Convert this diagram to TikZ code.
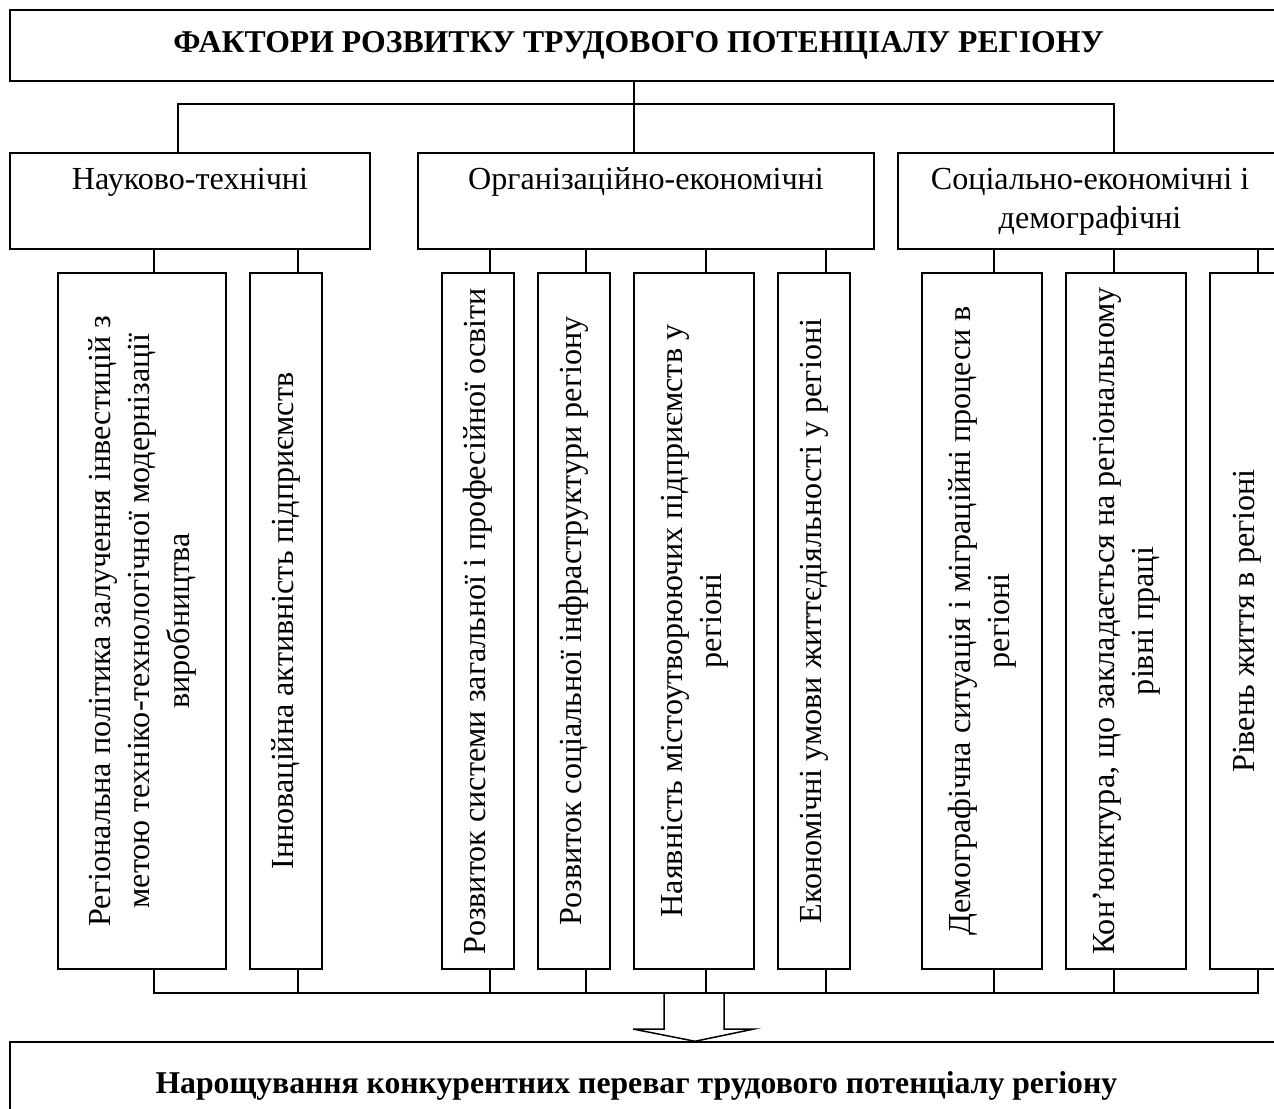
\documentclass[tikz,border=0pt]{standalone}
\usepackage{fontspec}
\setmainfont{Liberation Serif}
\usepackage{graphicx}

\newcommand{\px}{0.4667pt}
\newcommand{\vtext}[1]{\rotatebox{90}{\begin{tabular}{@{}c@{}}#1\end{tabular}}}

\begin{document}
\begin{tikzpicture}[x=0.4667pt,y=-0.4667pt]
    \tikzstyle{box}=[draw=black,line width=0.7pt,inner sep=0pt,font=\fontsize{15}{18.5}\selectfont]
    \tikzstyle{head}=[box,minimum height=96*\px,align=center]
    \tikzstyle{leaf}=[box,minimum height=696*\px]
    \tikzstyle{wide}=[box,minimum width=1270*\px,font=\fontsize{14.8}{18.5}\selectfont\bfseries]
    \useasboundingbox (0,0) rectangle (1274,1108);
    \clip (0,0) rectangle (1274,1108);

    % top and bottom
    \node[wide,minimum height=71*\px] (title) at (645,45.5) {\hspace*{-6pt}ФАКТОРИ РОЗВИТКУ ТРУДОВОГО ПОТЕНЦІАЛУ РЕГІОНУ};
    \node[wide,minimum height=88*\px] (result) at (645,1086) {\hspace*{-8pt}Нарощування конкурентних переваг трудового потенціалу регіону};

    % groups
    \node[head,minimum width=360*\px] (b1) at (190,201) {\strut Науково-технічні\\\strut};
    \node[head,minimum width=456*\px] (b2) at (646,201) {\strut Організаційно-економічні\\\strut};
    \node[head,minimum width=384*\px] (b3) at (1090,201) {\strut Соціально-економічні і\\\strut демографічні};

    % factors
    \node[leaf,minimum width=168*\px] (c1) at (142,621) {\vtext{Регіональна політика залучення інвестицій з\\метою техніко-технологічної модернізації\\виробництва}};
    \node[leaf,minimum width=72*\px] (c2) at (286,621) {\vtext{Інноваційна активність підприємств}};
    \node[leaf,minimum width=72*\px] (c3) at (478,621) {\vtext{Розвиток системи загальної і професійної освіти}};
    \node[leaf,minimum width=72*\px] (c4) at (574,621) {\vtext{Розвиток соціальної інфраструктури регіону}};
    \node[leaf,minimum width=120*\px] (c5) at (694,621) {\vtext{Наявність містоутворюючих підприємств у\\регіоні}};
    \node[leaf,minimum width=72*\px] (c6) at (814,621) {\vtext{Економічні умови життєдіяльності у регіоні}};
    \node[leaf,minimum width=120*\px] (c7) at (982,621) {\vtext{Демографічна ситуація і міграційні процеси в\\регіоні}};
    \node[leaf,minimum width=120*\px] (c8) at (1126,621) {\vtext{Кон’юнктура, що закладається на регіональному\\рівні праці}};
    \node[leaf,minimum width=74*\px] (c9) at (1247,621) {\vtext{Рівень життя в регіоні}};

    \coordinate (split) at (634,104);
    \coordinate (busL) at (154,993);

    \draw[line width=0.7pt] (title.south -| split) -- (b2.north -| split);
    \draw[line width=0.7pt] ([xshift=-12*\px]b1.north) |- (split) -| ([xshift=24*\px]b3.north);

    \draw[line width=0.7pt] ([xshift=12*\px]c1.north) -- ([xshift=12*\px]c1.north |- b1.south);
    \draw[line width=0.7pt] ([xshift=12*\px]c2.north) -- ([xshift=12*\px]c2.north |- b1.south);
    \draw[line width=0.7pt] ([xshift=12*\px]c3.north) -- ([xshift=12*\px]c3.north |- b2.south);
    \draw[line width=0.7pt] ([xshift=12*\px]c4.north) -- ([xshift=12*\px]c4.north |- b2.south);
    \draw[line width=0.7pt] ([xshift=12*\px]c5.north) -- ([xshift=12*\px]c5.north |- b2.south);
    \draw[line width=0.7pt] ([xshift=12*\px]c6.north) -- ([xshift=12*\px]c6.north |- b2.south);
    \draw[line width=0.7pt] ([xshift=12*\px]c7.north) -- ([xshift=12*\px]c7.north |- b3.south);
    \draw[line width=0.7pt] ([xshift=-12*\px]c8.north) -- ([xshift=-12*\px]c8.north |- b3.south);
    \draw[line width=0.7pt] ([xshift=11*\px]c9.north) -- ([xshift=11*\px]c9.north |- b3.south);

    \draw[line width=0.7pt] ([xshift=12*\px]c1.south) |- ([xshift=11*\px]c9.south |- busL) -- ([xshift=11*\px]c9.south);
    \draw[line width=0.7pt] ([xshift=12*\px]c2.south) -- ([xshift=12*\px]c2.south |- busL);
    \draw[line width=0.7pt] ([xshift=12*\px]c3.south) -- ([xshift=12*\px]c3.south |- busL);
    \draw[line width=0.7pt] ([xshift=12*\px]c4.south) -- ([xshift=12*\px]c4.south |- busL);
    \draw[line width=0.7pt] ([xshift=12*\px]c5.south) -- ([xshift=12*\px]c5.south |- busL);
    \draw[line width=0.7pt] ([xshift=12*\px]c6.south) -- ([xshift=12*\px]c6.south |- busL);
    \draw[line width=0.7pt] ([xshift=12*\px]c7.south) -- ([xshift=12*\px]c7.south |- busL);
    \draw[line width=0.7pt] ([xshift=-12*\px]c8.south) -- ([xshift=-12*\px]c8.south |- busL);

    % block arrow
    \draw[line width=0.7pt] (busL -| 664,0) -- (664,1029) -- (633,1029) -- (result.north -| 695,0)
      -- (754,1029) -- (724,1029) -- (busL -| 724,0);
\end{tikzpicture}
\end{document}
